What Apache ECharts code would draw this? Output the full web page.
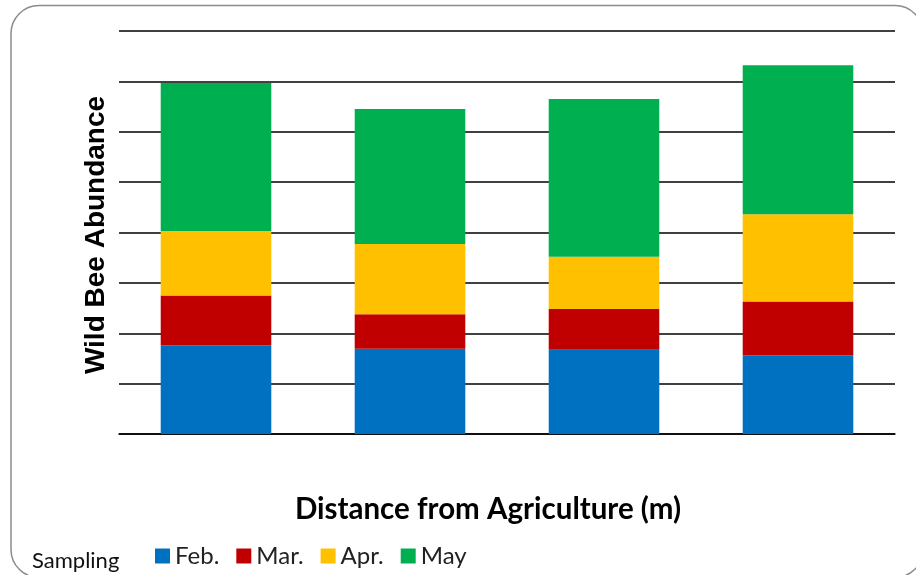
<!DOCTYPE html>
<html>
<head>
<meta charset="utf-8">
<script src="https://cdn.jsdelivr.net/npm/echarts@6/dist/echarts.min.js"></script>
<style>
html,body{margin:0;padding:0;background:#fff;}
#chart{width:916px;height:575px;}
</style>
</head>
<body>
<div id="chart"></div>
<script>
// Categories (distance classes; axis labels are not shown in the reference)
var categories = ['Site 1', 'Site 2', 'Site 3', 'Site 4'];
// Stacked series values (one gridline = 10 units)
var febValues = [17.6, 16.9, 16.7, 15.6];
var marValues = [9.9, 6.85, 8.1, 10.7];
var aprValues = [12.8, 13.95, 10.4, 17.3];
var mayValues = [29.4, 26.8, 31.3, 29.6];
var seriesNames = ['Feb.', 'Mar.', 'Apr.', 'May'];
var seriesColors = ['#0070C0', '#C00000', '#FFC000', '#00B050'];
var seriesValues = [febValues, marValues, aprValues, mayValues];

var chart = echarts.init(document.getElementById('chart'));
var series = seriesNames.map(function (n, i) {
  return {
    name: n,
    type: 'bar',
    stack: 'total',
    barWidth: '57%',
    itemStyle: { color: seriesColors[i] },
    data: seriesValues[i]
  };
});

chart.setOption({
  animation: false,
  backgroundColor: '#fff',
  grid: { left: 119, right: 21, top: 31, bottom: 141 },
  xAxis: {
    type: 'category',
    data: categories,
    axisLine: { show: true, lineStyle: { color: '#000', width: 1.5 } },
    axisTick: { show: false },
    axisLabel: { show: false }
  },
  yAxis: {
    type: 'value',
    min: 0,
    max: 80,
    interval: 10,
    axisLine: { show: false },
    axisTick: { show: false },
    axisLabel: { show: false },
    splitLine: { show: true, lineStyle: { color: '#000', width: 1.5 } }
  },
  legend: {
    data: seriesNames,
    left: 155,
    top: 544,
    padding: 0,
    icon: 'rect',
    itemWidth: 15,
    itemHeight: 15,
    itemGap: 17,
    textStyle: { fontFamily: 'Lato', fontSize: 24, color: '#222' }
  },
  graphic: [
    {
      type: 'rect',
      silent: true,
      z: -10,
      shape: { x: 11, y: 5.5, width: 912, height: 572, r: 28 },
      style: { fill: 'none', stroke: '#8c8c8c', lineWidth: 1.5 }
    },
    {
      type: 'text',
      left: 32,
      top: 550,
      style: { text: 'Sampling', font: '22px Lato', fill: '#111' }
    },
    {
      type: 'text',
      x: 96.5,
      y: 235,
      rotation: Math.PI / 2,
      style: {
        text: 'Wild Bee Abundance',
        font: 'bold 28px "Liberation Sans", Arial, sans-serif',
        fill: '#000',
        align: 'center',
        verticalAlign: 'middle'
      }
    },
    {
      type: 'text',
      x: 488,
      y: 509,
      style: {
        text: 'Distance from Agriculture (m)',
        font: 'bold 29.5px Lato',
        fill: '#000',
        align: 'center',
        verticalAlign: 'middle'
      }
    }
  ],
  series: series
});
</script>
</body>
</html>
